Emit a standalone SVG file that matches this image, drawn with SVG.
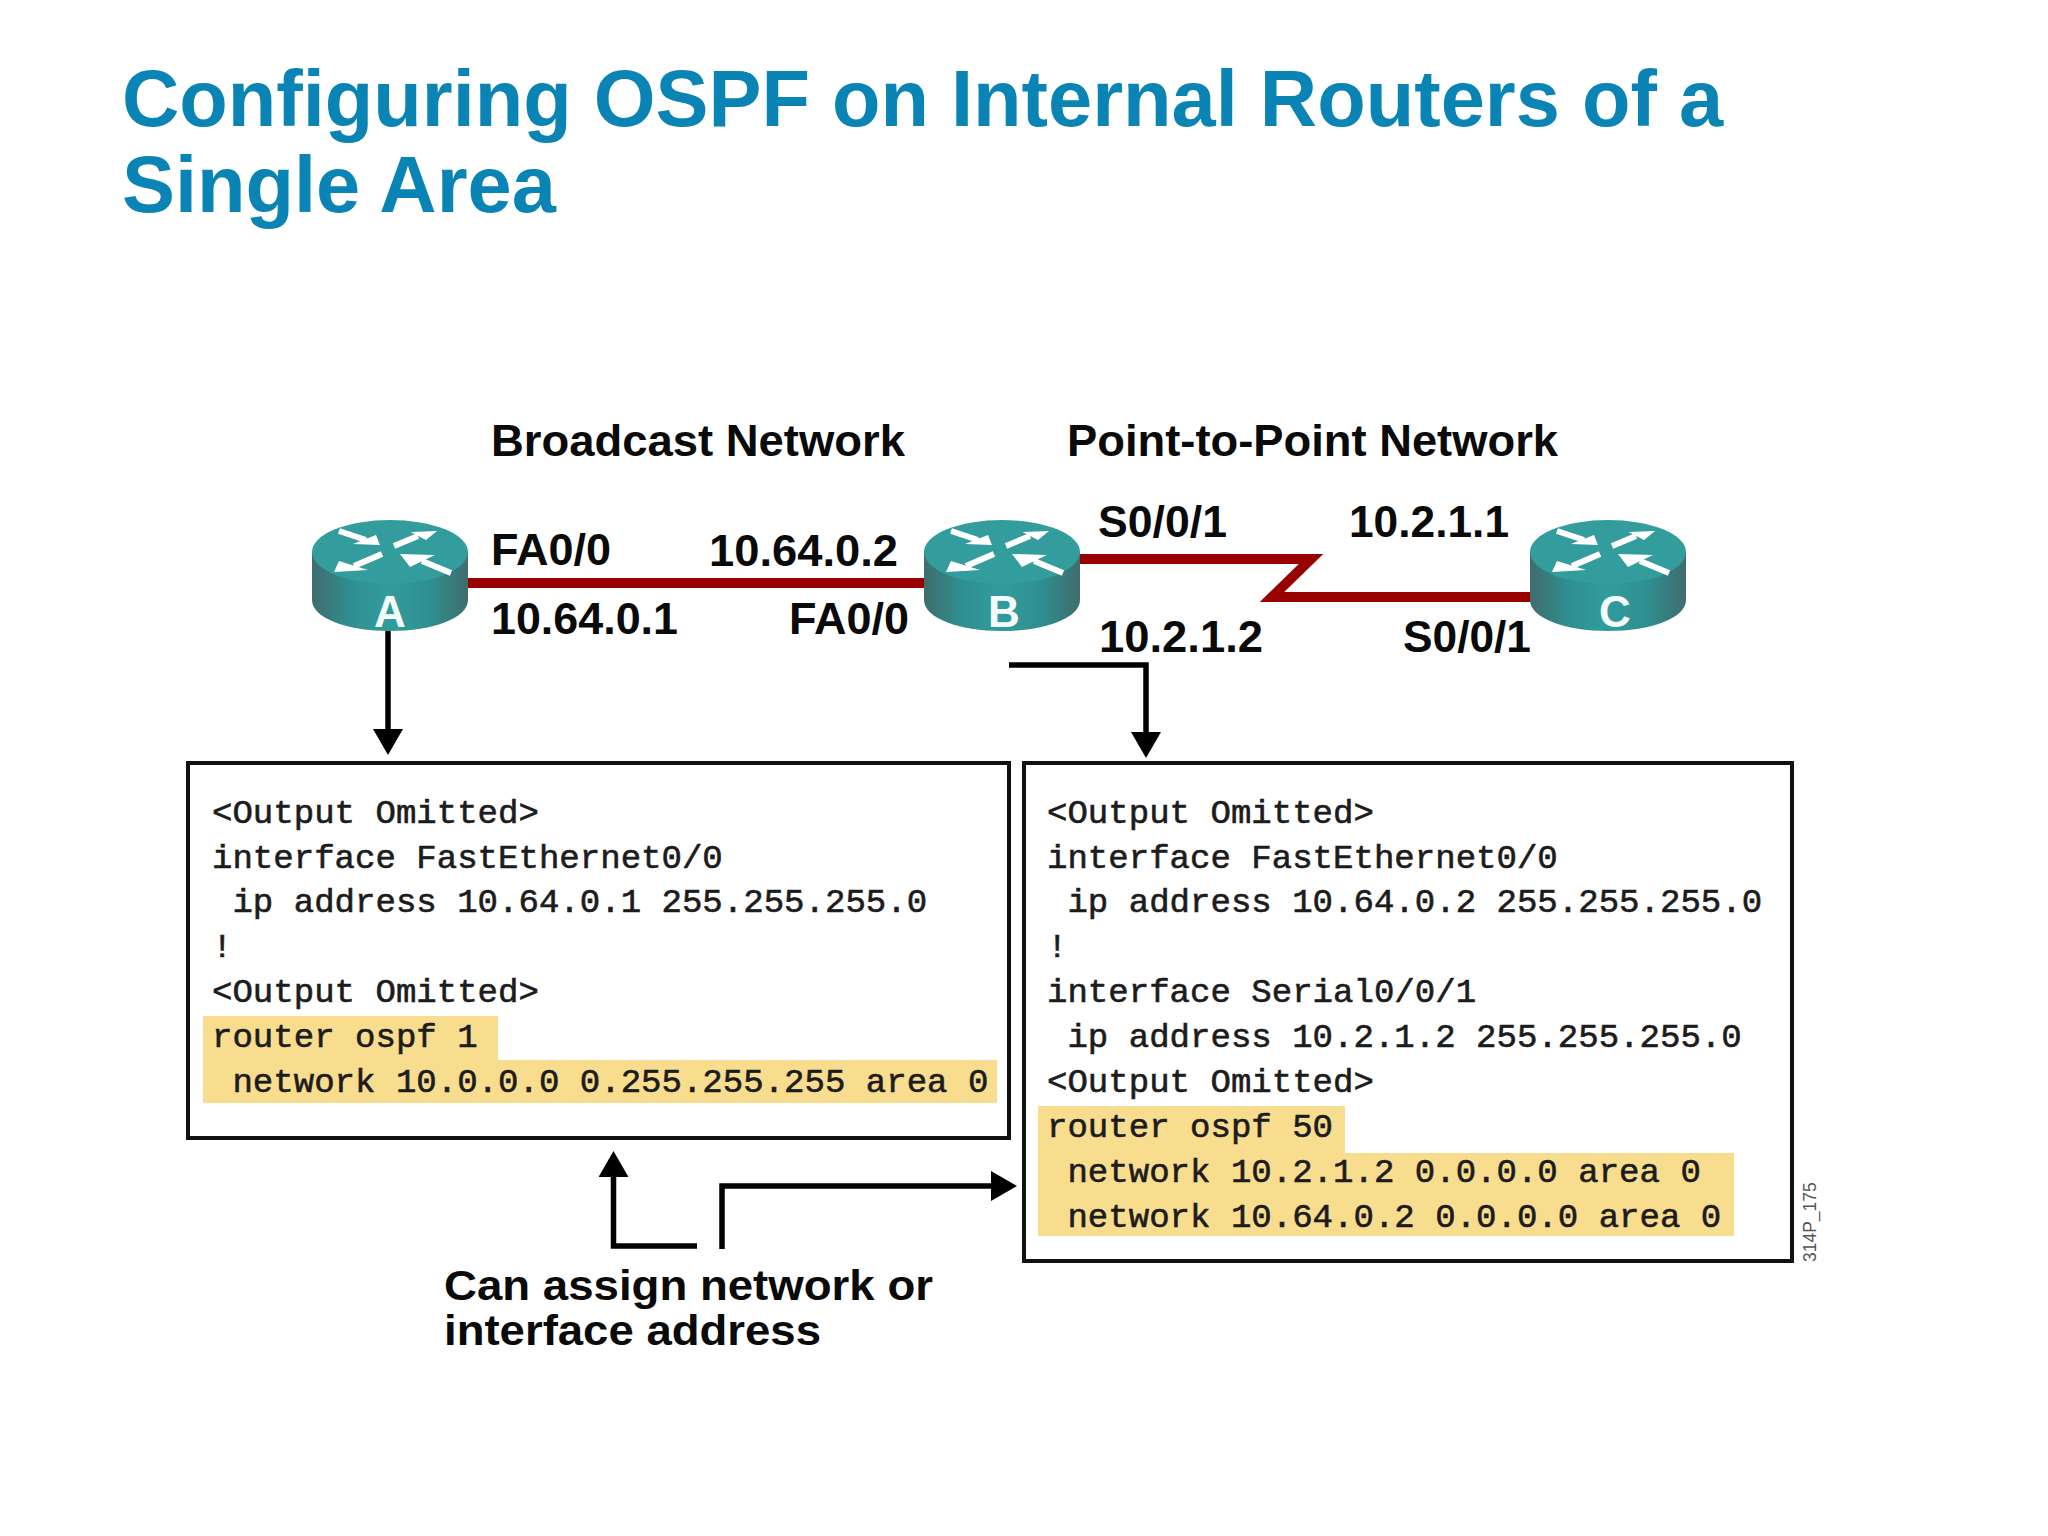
<svg xmlns="http://www.w3.org/2000/svg" xmlns:xlink="http://www.w3.org/1999/xlink" width="2048" height="1536" viewBox="0 0 2048 1536">
<style>
.title{font:bold 79.4px "Liberation Sans",Arial,sans-serif;fill:#0A84B4}
.lbl{font:bold 44px "Liberation Sans",Arial,sans-serif;fill:#0a0a0a}
.lb2{font:bold 43px "Liberation Sans",Arial,sans-serif;fill:#0a0a0a}
.rl{font:bold 44px "Liberation Sans",Arial,sans-serif;fill:#f4fbfb;text-anchor:middle}
.cli{font:34.05px "Liberation Mono","Courier New",monospace;fill:#1c1c1c;stroke:#1c1c1c;stroke-width:.6;white-space:pre}
.box{fill:#fff;stroke:#111;stroke-width:4}
.hl{fill:#F8DD8F}
.wan{fill:none;stroke:#990000;stroke-width:10;stroke-miterlimit:8}
.arr{fill:none;stroke:#000;stroke-width:5.5}
.ra{stroke:#fff;stroke-width:6;fill:none}
</style>
<defs>
<marker id="ah" markerUnits="userSpaceOnUse" markerWidth="30" markerHeight="30" viewBox="0 0 26 30" refX="2" refY="15" orient="auto"><path d="M0 0L26 15L0 30Z" fill="#000"/></marker>
<linearGradient id="side" x1="0" x2="1" y1="0" y2="0"><stop offset="0" stop-color="#3F6D6E"/><stop offset=".25" stop-color="#2F8F90"/><stop offset=".5" stop-color="#319C9C"/><stop offset=".75" stop-color="#2F8F90"/><stop offset="1" stop-color="#3F6D6E"/></linearGradient>
<g id="router">
<path d="M-78 0V48C-78 66-43 79 0 79S78 66 78 48V0Z" fill="url(#side)"/>
<ellipse cx="0" cy="0" rx="78" ry="32" fill="#339C9C"/>
<g class="ra">
<path d="M-51 -21L-24 -12"/><path d="M4 -6L28 -16"/><path d="M-8 2L-36 14"/><path d="M61 21L32 9"/>
</g>
<path d="M-10 -7L-14 -17L-37 -8Z M47 -21L20.500 -20L36 -12Z M-56 20L-51 9L-22 18Z M10 2L45 3L20 15Z" fill="#fff"/>
</g>
</defs>
<rect width="2048" height="1536" fill="#fff"/>
<text class="title" x="122" y="126">Configuring OSPF on Internal Routers of a</text>
<text class="title" x="122" y="212">Single Area</text>

<g id="connectors">
<path class="wan" d="M465 583H930"/>
<path class="wan" d="M1080 559H1311L1272 597H1532"/>
<path class="arr" d="M388 630V731" marker-end="url(#ah)"/>
<path class="arr" d="M1009 665H1146V734" marker-end="url(#ah)"/>
<path class="arr" d="M697 1246H613.500V1175" marker-end="url(#ah)"/>
<path class="arr" d="M722 1249V1186H993" marker-end="url(#ah)"/>
</g>

<g id="router-a"><use href="#router" x="390" y="552"/><text class="rl" x="390" y="627">A</text></g>
<g id="router-b"><use href="#router" x="1002" y="552"/><text class="rl" x="1004" y="627">B</text></g>
<g id="router-c"><use href="#router" x="1608" y="552"/><text class="rl" x="1615" y="627">C</text></g>

<g id="labels">
<text class="lbl" x="491" y="456" textLength="414" lengthAdjust="spacingAndGlyphs">Broadcast Network</text>
<text class="lbl" x="1067" y="456" textLength="491" lengthAdjust="spacingAndGlyphs">Point-to-Point Network</text>
<text class="lbl" x="491" y="565" textLength="120" lengthAdjust="spacingAndGlyphs">FA0/0</text>
<text class="lbl" x="709" y="566" textLength="189" lengthAdjust="spacingAndGlyphs">10.64.0.2</text>
<text class="lbl" x="491" y="634" textLength="187" lengthAdjust="spacingAndGlyphs">10.64.0.1</text>
<text class="lbl" x="789" y="634" textLength="120" lengthAdjust="spacingAndGlyphs">FA0/0</text>
<text class="lbl" x="1098" y="537" textLength="129" lengthAdjust="spacingAndGlyphs">S0/0/1</text>
<text class="lbl" x="1349" y="537" textLength="160" lengthAdjust="spacingAndGlyphs">10.2.1.1</text>
<text class="lbl" x="1099" y="652" textLength="164" lengthAdjust="spacingAndGlyphs">10.2.1.2</text>
<text class="lbl" x="1403" y="652" textLength="128" lengthAdjust="spacingAndGlyphs">S0/0/1</text>
<text class="lb2" x="444" y="1300" textLength="489" lengthAdjust="spacingAndGlyphs">Can assign network or</text>
<text class="lb2" x="444" y="1345" textLength="377" lengthAdjust="spacingAndGlyphs">interface address</text>
</g>

<g id="config-a">
<rect class="box" x="188" y="763" width="821" height="375"/>
<path class="hl" d="M203 1016H498V1060H997V1103H203Z"/>
<text class="cli" x="212" y="823">&lt;Output Omitted&gt;</text>
<text class="cli" x="212" y="868">interface FastEthernet0/0</text>
<text class="cli" x="212" y="912"> ip address 10.64.0.1 255.255.255.0</text>
<text class="cli" x="212" y="957">!</text>
<text class="cli" x="212" y="1002">&lt;Output Omitted&gt;</text>
<text class="cli" x="212" y="1047">router ospf 1</text>
<text class="cli" x="212" y="1092"> network 10.0.0.0 0.255.255.255 area 0</text>
</g>

<g id="config-b">
<rect class="box" x="1024" y="763" width="768" height="498"/>
<path class="hl" d="M1038 1106H1345V1153H1734V1236H1038Z"/>
<text class="cli" x="1047" y="823">&lt;Output Omitted&gt;</text>
<text class="cli" x="1047" y="868">interface FastEthernet0/0</text>
<text class="cli" x="1047" y="912"> ip address 10.64.0.2 255.255.255.0</text>
<text class="cli" x="1047" y="957">!</text>
<text class="cli" x="1047" y="1002">interface Serial0/0/1</text>
<text class="cli" x="1047" y="1047"> ip address 10.2.1.2 255.255.255.0</text>
<text class="cli" x="1047" y="1092">&lt;Output Omitted&gt;</text>
<text class="cli" x="1047" y="1137">router ospf 50</text>
<text class="cli" x="1047" y="1182"> network 10.2.1.2 0.0.0.0 area 0</text>
<text class="cli" x="1047" y="1227"> network 10.64.0.2 0.0.0.0 area 0</text>
</g>
<text transform="translate(1816 1262) rotate(-90)" font-family="Liberation Sans, Arial, sans-serif" font-size="17.500" fill="#555">314P_175</text>
</svg>
